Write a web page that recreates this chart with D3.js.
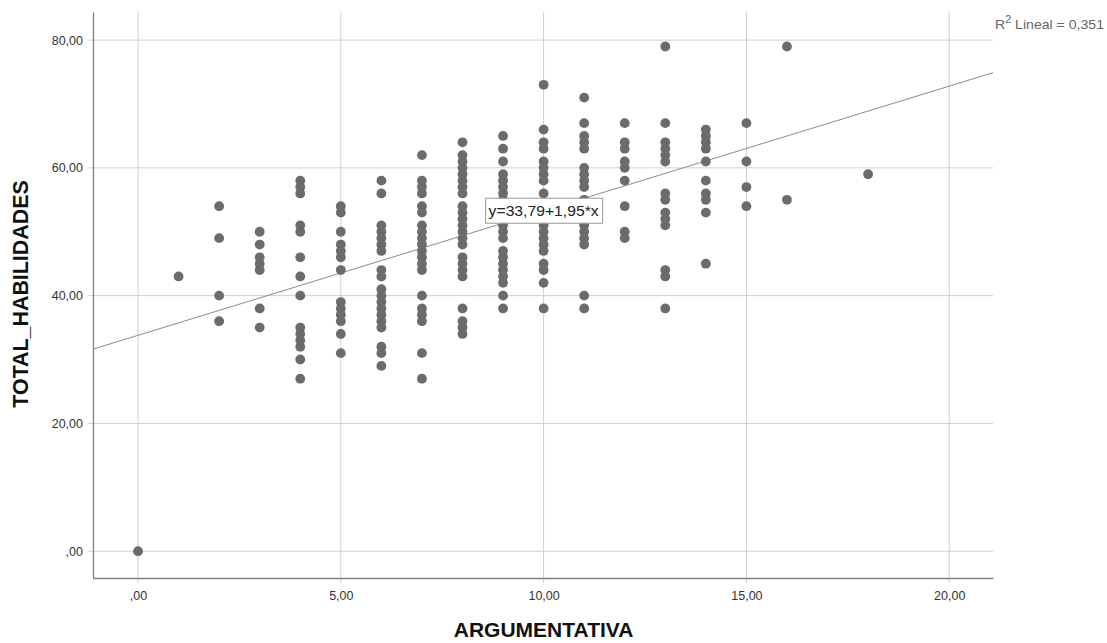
<!DOCTYPE html>
<html>
<head>
<meta charset="utf-8">
<script src="https://cdn.jsdelivr.net/npm/d3@7"></script>
<style>
  body { margin: 0; background: #fff; }
  svg { font-family: "Liberation Sans", Arial, sans-serif; }
</style>
</head>
<body>
<div id="chart"></div>
<script>
// ARGUMENTATIVA value of each column of points
const argumentativa = [0, 1, 2, 3, 4, 5, 6, 7, 8, 9, 10, 11, 12, 13, 14, 15, 16, 18];

// TOTAL_HABILIDADES values seen in each column
const totalHabilidades = [
  [0],
  [43],
  [54, 49, 40, 36],
  [50, 48, 46, 45, 44, 38, 35],
  [58, 57, 56, 51, 50, 46, 43, 40, 35, 34, 33, 32, 30, 27],
  [54, 53, 50, 48, 47, 46, 44, 39, 38, 37, 36, 34, 31],
  [58, 56, 51, 50, 49, 48, 47, 44, 43, 41, 40, 39, 38, 37, 36, 35, 32, 31, 29],
  [62, 58, 57, 56, 54, 53, 51, 50, 49, 48, 47, 46, 45, 44, 40, 38, 37, 36, 31, 27],
  [64, 62, 61, 60, 59, 58, 57, 56, 54, 53, 52, 51, 50, 49, 48, 46, 45, 44, 43, 38, 36, 35, 34],
  [65, 63, 61, 59, 58, 57, 56, 55, 54, 53, 52, 51, 50, 49, 47, 46, 45, 44, 43, 42, 40, 38],
  [73, 66, 64, 63, 61, 60, 59, 58, 56, 54, 53, 52, 51, 50, 49, 48, 47, 45, 44, 42, 38],
  [71, 67, 65, 64, 63, 60, 59, 58, 57, 55, 54, 53, 52, 51, 50, 49, 48, 40, 38],
  [67, 64, 63, 61, 60, 58, 54, 50, 49],
  [79, 67, 64, 63, 62, 61, 56, 55, 53, 52, 51, 44, 43, 38],
  [66, 65, 64, 63, 61, 58, 56, 55, 53, 45],
  [67, 61, 57, 54],
  [79, 55],
  [59]
];

const xTicks = [0, 5, 10, 15, 20];
const yTicks = [0, 20, 40, 60, 80];
const intercept = 33.79;
const slope = 1.95;
const rSquared = "0,351";

const points = [];
argumentativa.forEach((a, i) => {
  totalHabilidades[i].forEach(t => points.push({ x: a, y: t }));
});

const fmt = v => (v === 0 ? ",00" : d3.format(".2f")(v).replace(".", ","));

const W = 1107, H = 643;
const margin = { top: 12, right: 114, bottom: 65, left: 93 };
const width = W - margin.left - margin.right;
const height = H - margin.top - margin.bottom;

const svg = d3.select("#chart").append("svg")
  .attr("width", W)
  .attr("height", H);

const g = svg.append("g")
  .attr("transform", `translate(${margin.left},${margin.top})`);

const x = d3.scaleLinear().domain([-1.11, 21.08]).range([0, width]);
const y = d3.scaleLinear().domain([-4.2, 84.4]).range([height, 0]);

// grid lines
g.append("g").selectAll("line")
  .data(yTicks).join("line")
  .attr("x1", -5).attr("x2", width)
  .attr("y1", d => y(d)).attr("y2", d => y(d))
  .attr("stroke", "#cfcfcf");

g.append("g").selectAll("line")
  .data(xTicks).join("line")
  .attr("x1", d => x(d)).attr("x2", d => x(d))
  .attr("y1", 0).attr("y2", height + 5)
  .attr("stroke", "#cfcfcf");

// axes
const xAxis = d3.axisBottom(x).tickValues(xTicks).tickFormat(fmt).tickSize(0).tickPadding(13);
const yAxis = d3.axisLeft(y).tickValues(yTicks).tickFormat(fmt).tickSize(0).tickPadding(10);

const gx = g.append("g").attr("transform", `translate(0,${height})`).call(xAxis);
const gy = g.append("g").call(yAxis);

[gx, gy].forEach(a => {
  a.select(".domain").attr("stroke", "#808080").attr("stroke-width", 1.3);
  a.selectAll("text").attr("fill", "#333").style("font-size", "12.5px");
});

// regression line
g.append("line")
  .attr("x1", x(-1.11)).attr("y1", y(intercept + slope * -1.11))
  .attr("x2", x(21.08)).attr("y2", y(intercept + slope * 21.08))
  .attr("stroke", "#8c8c8c")
  .attr("stroke-width", 1);

// points
g.append("g").selectAll("circle")
  .data(points).join("circle")
  .attr("cx", d => x(d.x))
  .attr("cy", d => y(d.y))
  .attr("r", 4.9)
  .attr("fill", "#6b6b6b");

// equation label, centred on the fit line at x = 10
const eq = g.append("g")
  .attr("transform", `translate(${x(10)},${y(intercept + slope * 10)})`);
eq.append("rect")
  .attr("x", -58).attr("y", -12.5)
  .attr("width", 117).attr("height", 25)
  .attr("fill", "#fff")
  .attr("stroke", "#999");
eq.append("text")
  .attr("text-anchor", "middle")
  .attr("dy", "0.36em")
  .attr("fill", "#222")
  .attr("textLength", 110)
  .attr("lengthAdjust", "spacingAndGlyphs")
  .style("font-size", "15px")
  .text("y=33,79+1,95*x");

// R2 label
const r2 = svg.append("text")
  .attr("x", 995).attr("y", 29)
  .attr("fill", "#666")
  .attr("textLength", 109)
  .attr("lengthAdjust", "spacingAndGlyphs")
  .style("font-size", "13px");
r2.append("tspan").text("R");
r2.append("tspan").attr("dy", -6).style("font-size", "10px").text("2");
r2.append("tspan").attr("dy", 6).text(" Lineal = " + rSquared);

// axis titles
svg.append("text")
  .attr("x", margin.left + x(10))
  .attr("y", 637)
  .attr("text-anchor", "middle")
  .attr("fill", "#111")
  .style("font-size", "21px")
  .style("font-weight", "bold")
  .text("ARGUMENTATIVA");

svg.append("text")
  .attr("transform", `translate(28,294) rotate(-90)`)
  .attr("text-anchor", "middle")
  .attr("fill", "#111")
  .style("font-size", "21.4px")
  .style("font-weight", "bold")
  .text("TOTAL_HABILIDADES");
</script>
</body>
</html>
